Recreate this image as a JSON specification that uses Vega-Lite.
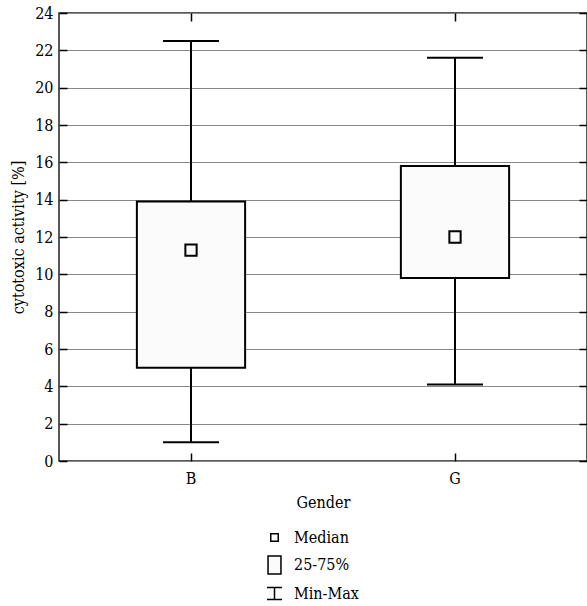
{
  "$schema": "https://vega.github.io/schema/vega-lite/v6.json",
  "width": 528,
  "height": 448,
  "autosize": "none",
  "padding": {"left": 59, "top": 13, "right": 0, "bottom": 145},
  "background": "white",
  "config": {
    "font": "DejaVu Serif Condensed, DejaVu Serif",
    "view": {"stroke": "#222", "strokeWidth": 1.5},
    "axis": {
      "labelFont": "DejaVu Serif Condensed, DejaVu Serif",
      "titleFont": "DejaVu Serif Condensed, DejaVu Serif",
      "labelFontSize": 16,
      "titleFontSize": 16,
      "titleFontWeight": "normal",
      "labelColor": "black",
      "titleColor": "black",
      "domain": false,
      "tickColor": "black",
      "tickWidth": 1.5,
      "tickSize": -8
    },
    "legend": {
      "labelFont": "DejaVu Serif Condensed, DejaVu Serif",
      "titleFont": "DejaVu Serif Condensed, DejaVu Serif"
    }
  },
  "data": {
    "values": [
      {"Gender": "B", "min": 1.0, "q1": 5.0, "median": 11.3, "q3": 13.9, "max": 22.5},
      {"Gender": "G", "min": 4.1, "q1": 9.8, "median": 12.0, "q3": 15.8, "max": 21.6}
    ]
  },
  "layer": [
    {
      "mark": {"type": "rule", "color": "black", "strokeWidth": 2},
      "encoding": {
        "x": {
          "field": "Gender", "type": "nominal",
          "scale": {"type": "band", "domain": ["B", "G"], "paddingInner": 0, "paddingOuter": 0},
          "axis": {"orient": "bottom", "title": "Gender", "labelAngle": 0, "grid": false, "bandPosition": 0.5, "labelPadding": 17, "titlePadding": 8}
        },
        "y": {
          "field": "min", "type": "quantitative",
          "scale": {"domain": [0, 24], "nice": false, "zero": true},
          "axis": {"orient": "left", "title": "cytotoxic activity [%]", "values": [0,2,4,6,8,10,12,14,16,18,20,22,24], "grid": true, "gridColor": "#888", "gridWidth": 1, "labelPadding": 14, "titlePadding": 8}
        },
        "y2": {"field": "max"}
      }
    },
    {
      "mark": {"type": "tick", "color": "black", "size": 56, "thickness": 2, "opacity": 1},
      "encoding": {
        "x": {"field": "Gender", "type": "nominal", "axis": {"orient": "top", "labels": false, "title": null, "grid": false, "bandPosition": 0.5}},
        "y": {"field": "max", "type": "quantitative", "axis": {"orient": "right", "labels": false, "title": null, "grid": false, "values": [0,2,4,6,8,10,12,14,16,18,20,22,24]}}
      }
    },
    {
      "mark": {"type": "tick", "color": "black", "size": 56, "thickness": 2, "opacity": 1},
      "encoding": {
        "x": {"field": "Gender", "type": "nominal", "axis": null},
        "y": {"field": "min", "type": "quantitative", "axis": null}
      }
    },
    {
      "mark": {"type": "bar", "width": {"band": 0.41}, "fill": "#fbfbfb", "stroke": "black", "strokeWidth": 2},
      "encoding": {
        "x": {"field": "Gender", "type": "nominal", "axis": null},
        "y": {"field": "q1", "type": "quantitative", "axis": null},
        "y2": {"field": "q3"}
      }
    },
    {
      "mark": {"type": "point", "filled": true, "fill": "#fbfbfb", "stroke": "black", "strokeWidth": 2, "size": 655, "opacity": 1},
      "encoding": {
        "x": {"field": "Gender", "type": "nominal", "axis": null},
        "y": {"field": "median", "type": "quantitative", "axis": null},
        "shape": {
          "datum": "Median",
          "scale": {
            "domain": ["Median", "25-75%", "Min-Max"],
            "range": [
              "M-0.44,-0.44H0.44V0.44H-0.44Z",
              "M-0.76,-1.06H0.76V1.06H-0.76Z",
              "M-0.88,-0.7H0.88M0,-0.7V0.7M-0.88,0.7H0.88"
            ]
          },
          "legend": {
            "orient": "none",
            "legendX": 206,
            "legendY": 515,
            "title": null,
            "symbolSize": 289,
            "labelFont": "DejaVu Serif Condensed, DejaVu Serif",
            "labelFontSize": 16,
            "labelColor": "black",
            "rowPadding": 6.5,
            "labelOffset": 10,
            "padding": 0,
            "encode": {
              "symbols": {
                "update": {
                  "stroke": {"value": "black"},
                  "strokeWidth": {"value": 1.5},
                  "fill": {"value": "white"},
                  "opacity": {"value": 1}
                }
              }
            }
          }
        }
      }
    }
  ],
  "resolve": {"axis": {"x": "independent", "y": "independent"}}
}
